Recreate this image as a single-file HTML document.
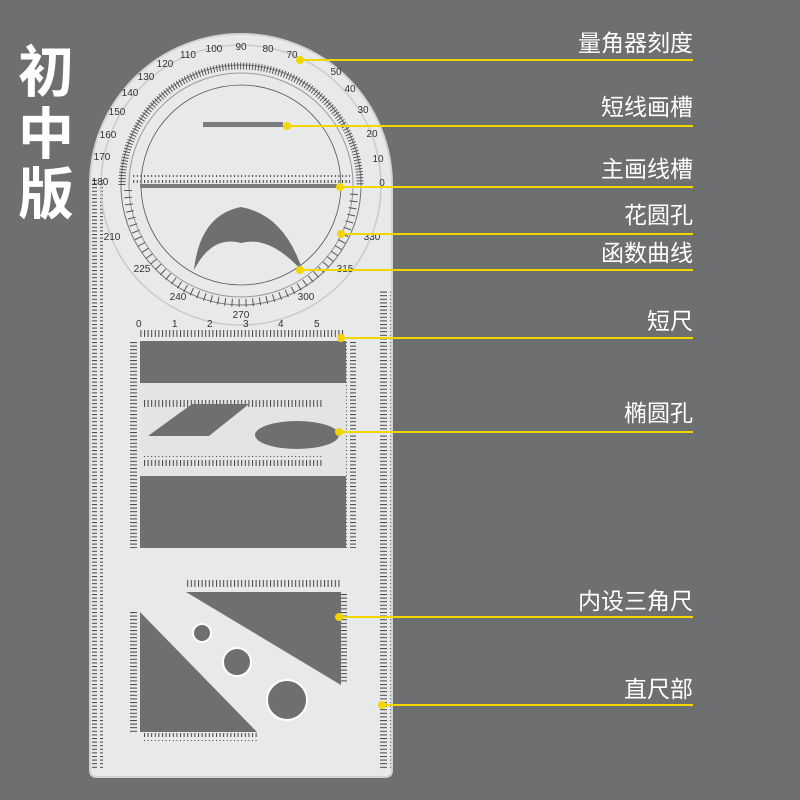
<!DOCTYPE html>
<html><head><meta charset="utf-8"><style>
html,body{margin:0;padding:0;background:#6d6f71;}
svg{display:block}
</style></head><body>
<svg width="800" height="800" viewBox="0 0 800 800" xmlns="http://www.w3.org/2000/svg">
<defs>
<pattern id="tk" width="3.6" height="10" patternUnits="userSpaceOnUse"><rect x="0" y="0" width="1" height="7" fill="#444"/></pattern>
<pattern id="tkv" width="10" height="3.6" patternUnits="userSpaceOnUse"><rect x="0" y="0" width="7" height="1" fill="#444"/></pattern>
</defs>
<rect width="800" height="800" fill="#6d6f71"/>
<path d="M90,185 A151,151 0 0 1 392,185 L392,770 Q392,777 385,777 L97,777 Q90,777 90,770 Z" fill="#e8e9ea" stroke="#d2d3d4" stroke-width="2"/>
<rect x="92" y="180" width="11" height="590" fill="url(#tkv)"/>
<rect x="380" y="290" width="11" height="480" fill="url(#tkv)"/>
<circle cx="241" cy="185" r="140" fill="none" stroke="#c9cacb" stroke-width="1.5"/>
<circle cx="241" cy="185" r="120" fill="none" stroke="#777" stroke-width="1"/>
<circle cx="241" cy="185" r="112" fill="none" stroke="#999" stroke-width="1"/>
<path d="M122,185 A119,119 0 0 1 360,185" fill="none" stroke="#555" stroke-width="7" stroke-dasharray="1 2"/>
<path d="M128,190 A113,113 0 0 0 354,190" fill="none" stroke="#555" stroke-width="8" stroke-dasharray="1 6"/>
<circle cx="241" cy="185" r="100" fill="none" stroke="#555" stroke-width="0.8"/>
<g font-family="Liberation Sans,sans-serif" font-size="10" fill="#333" text-anchor="middle">
<text x="241" y="50">90</text><text x="268" y="52">80</text><text x="292" y="58">70</text><text x="214" y="52">100</text><text x="188" y="58">110</text><text x="165" y="67">120</text>
<text x="146" y="80">130</text><text x="130" y="96">140</text><text x="117" y="115">150</text><text x="108" y="138">160</text><text x="102" y="160">170</text><text x="100" y="185">180</text>
<text x="336" y="75">50</text><text x="350" y="92">40</text><text x="363" y="113">30</text><text x="372" y="137">20</text><text x="378" y="162">10</text><text x="382" y="186">0</text>
<text x="241" y="318">270</text><text x="178" y="300">240</text><text x="306" y="300">300</text><text x="142" y="272">225</text><text x="345" y="272">315</text><text x="112" y="240">210</text><text x="372" y="240">330</text>
</g>
<rect x="133" y="175" width="217" height="8" fill="url(#tk)"/>
<rect x="140" y="184" width="200" height="4" fill="#7a7c7e"/>
<rect x="203" y="122" width="80" height="5" fill="#7a7c7e"/>
<path d="M241,207 Q285,215 303,272 Q270,235 241,243 Q212,235 194,270 Q200,215 241,207 Z" fill="#6d6f71"/>
<rect x="140" y="328" width="205" height="12" fill="url(#tk)"/>
<g font-family="Liberation Sans,sans-serif" font-size="10" fill="#333"><text x="136" y="327">0</text><text x="172" y="327">1</text><text x="207" y="327">2</text><text x="243" y="327">3</text><text x="278" y="327">4</text><text x="314" y="327">5</text></g>
<rect x="140" y="341" width="206" height="207" fill="#6d6f71"/>
<rect x="140" y="383" width="206" height="93" fill="#e3e4e5"/>
<rect x="142" y="398" width="180" height="10" fill="url(#tk)"/>
<rect x="142" y="456" width="180" height="10" fill="url(#tk)"/>
<rect x="346" y="341" width="10" height="207" fill="url(#tkv)"/>
<rect x="128" y="341" width="10" height="207" fill="url(#tkv)"/>
<polygon points="148,436 192,404 249,404 209,436" fill="#6d6f71"/>
<ellipse cx="297" cy="435" rx="42" ry="14" fill="#6d6f71"/>
<rect x="185" y="580" width="155" height="10" fill="url(#tk)"/>
<rect x="340" y="592" width="10" height="92" fill="url(#tkv)"/>
<polygon points="186,592 341,592 341,685" fill="#6d6f71"/>
<polygon points="140,612 140,732 257,732" fill="#6d6f71"/>
<rect x="143" y="733" width="114" height="8" fill="url(#tk)"/>
<rect x="128" y="612" width="10" height="120" fill="url(#tkv)"/>
<circle cx="202" cy="633" r="9" fill="#6d6f71" stroke="#fff" stroke-width="2"/>
<circle cx="237" cy="662" r="14" fill="#6d6f71" stroke="#fff" stroke-width="2"/>
<circle cx="287" cy="700" r="20" fill="#6d6f71" stroke="#fff" stroke-width="2"/>
<g font-family="Liberation Sans,'Noto Sans CJK SC',sans-serif" font-weight="bold" font-size="56" fill="#fff">
<text x="18" y="92">初</text><text x="18" y="154">中</text><text x="18" y="214">版</text>
</g>
<g stroke="#f2d600" stroke-width="2">
<line x1="300" y1="60" x2="693" y2="60"/><line x1="287" y1="126" x2="693" y2="126"/>
<line x1="340" y1="187" x2="693" y2="187"/><line x1="341" y1="234" x2="693" y2="234"/>
<line x1="300" y1="270" x2="693" y2="270"/><line x1="341" y1="338" x2="693" y2="338"/>
<line x1="339" y1="432" x2="693" y2="432"/><line x1="339" y1="617" x2="693" y2="617"/>
<line x1="382" y1="705" x2="693" y2="705"/>
</g>
<g fill="#f2d600">
<circle cx="300" cy="60" r="4"/><circle cx="287" cy="126" r="4"/><circle cx="340" cy="187" r="4"/><circle cx="341" cy="234" r="4"/><circle cx="300" cy="270" r="4"/><circle cx="341" cy="338" r="4"/><circle cx="339" cy="432" r="4"/><circle cx="339" cy="617" r="4"/><circle cx="382" cy="705" r="4"/>
</g>
<g font-family="Liberation Sans,'Noto Sans CJK SC',sans-serif" font-size="23" fill="#fff" text-anchor="end">
<text x="693" y="51">量角器刻度</text><text x="693" y="115">短线画槽</text><text x="693" y="177">主画线槽</text>
<text x="693" y="223">花圆孔</text><text x="693" y="261">函数曲线</text><text x="693" y="329">短尺</text>
<text x="693" y="421">椭圆孔</text><text x="693" y="609">内设三角尺</text><text x="693" y="697">直尺部</text>
</g>
</svg>
</body></html>
